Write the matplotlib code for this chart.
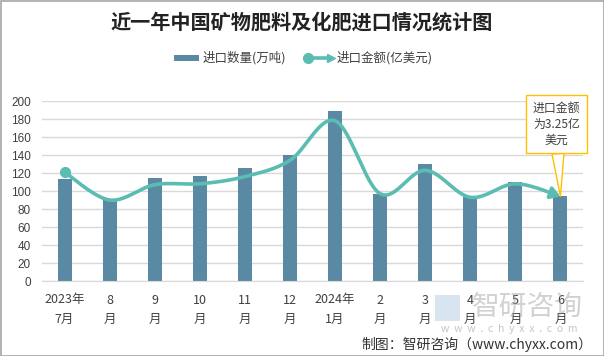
import numpy as np
import matplotlib
matplotlib.use("Agg")
import matplotlib.pyplot as plt
from matplotlib.patches import Rectangle
from matplotlib.lines import Line2D

plt.rcParams['font.family'] = ['Noto Sans CJK SC', 'DejaVu Sans']

categories = ["2023年\n7月", "8\n月", "9\n月", "10\n月", "11\n月", "12\n月",
              "2024年\n1月", "2\n月", "3\n月", "4\n月", "5\n月", "6\n月"]
quantity = [113.5, 91, 114.5, 116.5, 125.5, 140, 189, 96.5, 130, 93.5, 110, 94.5]
amount = [121, 90, 107, 108, 116, 134, 178, 97, 123, 93, 108, 94]
yticks = [0, 20, 40, 60, 80, 100, 120, 140, 160, 180, 200]

title = "近一年中国矿物肥料及化肥进口情况统计图"
legend_bar = "进口数量(万吨)"
legend_line = "进口金额(亿美元)"
callout = "进口金额\n为3.25亿\n美元"
footer = "制图：智研咨询（www.chyxx.com）"

BAR_C = "#5A8AA3"
LINE_C = "#5BBDB2"
TXT_C = "#404040"
GRID_C = "#D9D9D9"

W, H = 604, 356
fig = plt.figure(figsize=(W / 100, H / 100), dpi=100)
ax = fig.add_axes([42 / W, 1 - 281 / H, 541 / W, 180 / H])

x = np.arange(len(categories))
ax.bar(x, quantity, width=0.31, color=BAR_C, zorder=2)

# Excel-like smoothed line (cubic Bezier through the points)
def smooth(xs, ys, n=30):
    pts = np.column_stack([xs, ys]).astype(float)
    out = []
    m = len(pts)
    for i in range(m - 1):
        p0 = pts[max(i - 1, 0)]
        p1 = pts[i]
        p2 = pts[i + 1]
        p3 = pts[min(i + 2, m - 1)]
        c1 = p1 + (p2 - p0) / 6
        c2 = p2 - (p3 - p1) / 6
        t = np.linspace(0, 1, n)[:, None]
        seg = ((1 - t) ** 3) * p1 + 3 * ((1 - t) ** 2) * t * c1 + 3 * (1 - t) * t ** 2 * c2 + t ** 3 * p2
        if i > 0:
            seg = seg[1:]
        out.append(seg)
    return np.vstack(out)

curve = smooth(x, amount)
ax.plot(curve[:-6, 0], curve[:-6, 1], color=LINE_C, lw=2.6, zorder=3, solid_capstyle='round')
ax.plot(x[0], amount[0], 'o', color=LINE_C, ms=7, zorder=4)
ax.annotate("", xy=(curve[-1, 0], curve[-1, 1]), xytext=(curve[-8, 0], curve[-8, 1]),
            arrowprops=dict(arrowstyle="-|>,head_length=0.55,head_width=0.35", color=LINE_C, lw=2.6,
                            shrinkA=0, shrinkB=0), zorder=4)

ax.set_xlim(-0.5, len(categories) - 0.5)
ax.set_ylim(0, 200)
ax.set_yticks(yticks)
ax.set_yticklabels([str(v) for v in yticks], fontsize=8.5, color=TXT_C, family=['Liberation Sans', 'DejaVu Sans'])
ax.set_xticks(x)
ax.set_xticklabels(categories, fontsize=9, color=TXT_C, linespacing=1.6)
ax.tick_params(axis='both', length=0)
ax.tick_params(axis='y', pad=8)
ax.tick_params(axis='x', pad=9)
ax.grid(axis='y', color=GRID_C, lw=1, zorder=0)
ax.set_axisbelow(True)
for s in ['top', 'right', 'left']:
    ax.spines[s].set_visible(False)
ax.spines['bottom'].set_color(GRID_C)

# callout
ax.annotate(callout, xy=(x[-1], amount[-1]), xytext=(-3, 52), textcoords='offset points',
            ha='center', va='center', fontsize=8.6, color=TXT_C, linespacing=1.3,
            bbox=dict(boxstyle='square,pad=0.55', fc='white', ec='#FFC000', lw=1),
            arrowprops=dict(arrowstyle='wedge,tail_width=1.0,shrink_factor=0.5', fc='white', ec='#FFC000',
                            lw=1, shrinkA=0, shrinkB=0), zorder=6)

# title
fig.text(0.5, 1 - 22 / H, title, ha='center', va='center', fontsize=14.5, fontweight='bold', color='#222222')

# legend (manual)
fig.patches.append(Rectangle((174 / W, 1 - 61 / H), 25 / W, 6 / H, transform=fig.transFigure,
                             fc=BAR_C, ec='none'))
fig.text(203 / W, 1 - 58 / H, legend_bar, ha='left', va='center', fontsize=9, color=TXT_C)
fig.add_artist(Line2D([306 / W, 326 / W], [1 - 58 / H, 1 - 58 / H], color=LINE_C, lw=2.6,
                      transform=fig.transFigure))
fig.add_artist(Line2D([308 / W], [1 - 58 / H], marker='o', ms=7, color=LINE_C, transform=fig.transFigure))
fig.add_artist(Line2D([331 / W], [1 - 58 / H], marker='>', ms=6, color=LINE_C, transform=fig.transFigure))
fig.text(337 / W, 1 - 58 / H, legend_line, ha='left', va='center', fontsize=9, color=TXT_C)

# watermark
fig.patches.append(Rectangle((435 / W, 1 - 321 / H), 25 / W, 26 / H, transform=fig.transFigure,
                             fc='#A9C4DC', ec='none', alpha=0.45, zorder=10))
fig.text(527 / W, 1 - 307 / H, "智研咨询", ha='center', va='center', fontsize=20, color='#9A9A9A',
         alpha=0.45, zorder=10)
fig.text(509 / W, 1 - 329 / H, "w  w  w  .  c  h  y  x  x  .  c  o  m", ha='center', va='center', fontsize=7.5,
         color='#A0A0A0', alpha=0.6, zorder=10)

# footer
fig.text(592 / W, 1 - 344 / H, footer, ha='right', va='center', fontsize=10, color='#333333')

# frame
fig.patches.append(Rectangle((0.5 / W, 0.5 / H), 1 - 1 / W, 1 - 1 / H, transform=fig.transFigure,
                             fc='none', ec='#A6A6A6', lw=1.2))

fig.savefig("out.png", dpi=100)
